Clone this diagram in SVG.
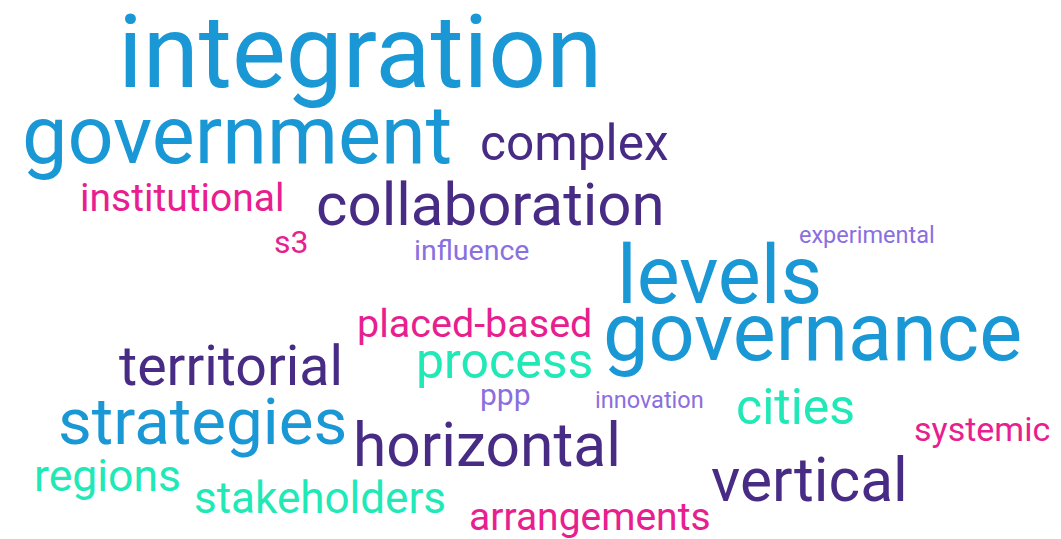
<svg xmlns="http://www.w3.org/2000/svg" width="1061" height="539" viewBox="0 0 1061 539">
<style>
text{font-family:Roboto,"Liberation Sans",sans-serif;}
.b{fill:#1a97d5}.p{fill:#472b84}.k{fill:#e8208f}.t{fill:#20e8b6}.l{fill:#8a6fdf}
</style>
<rect width="1061" height="539" fill="#ffffff"/>
<g id="words">
<text id="integration" class="b" x="118" y="87" font-size="101.5">integration</text>
<text id="government" class="b" x="22" y="163" font-size="81">government</text>
<text id="complex" class="p" x="480" y="160" font-size="49.6">complex</text>
<text id="institutional" class="k" x="80" y="211" font-size="39">institutional</text>
<text id="collaboration" class="p" x="316" y="225" font-size="60">collaboration</text>
<text id="s3" class="k" x="274" y="253" font-size="32">s3</text>
<text id="influence" class="l" x="414" y="260" font-size="28.5">influence</text>
<text id="experimental" class="l" x="799" y="243" font-size="23.5">experimental</text>
<text id="levels" class="b" x="617" y="303" font-size="81">levels</text>
<text id="governance" class="b" x="603" y="360" font-size="81">governance</text>
<text id="placed-based" class="k" x="357" y="337" font-size="39.5">placed-based</text>
<text id="territorial" class="p" x="119" y="385" font-size="55.5">territorial</text>
<text id="process" class="t" x="416" y="378" font-size="50">process</text>
<text id="ppp" class="l" x="480" y="405" font-size="30">ppp</text>
<text id="innovation" class="l" x="595" y="408" font-size="23.5">innovation</text>
<text id="cities" class="t" x="736" y="424" font-size="50">cities</text>
<text id="strategies" class="b" x="58" y="444" font-size="65.5">strategies</text>
<text id="horizontal" class="p" x="353" y="466" font-size="60.5">horizontal</text>
<text id="systemic" class="k" x="914" y="441" font-size="34">systemic</text>
<text id="regions" class="t" x="34" y="491" font-size="44.5">regions</text>
<text id="vertical" class="p" x="711" y="501" font-size="60.5">vertical</text>
<text id="stakeholders" class="t" x="194" y="513" font-size="44">stakeholders</text>
<text id="arrangements" class="k" x="469" y="530" font-size="39">arrangements</text>
</g>
</svg>
